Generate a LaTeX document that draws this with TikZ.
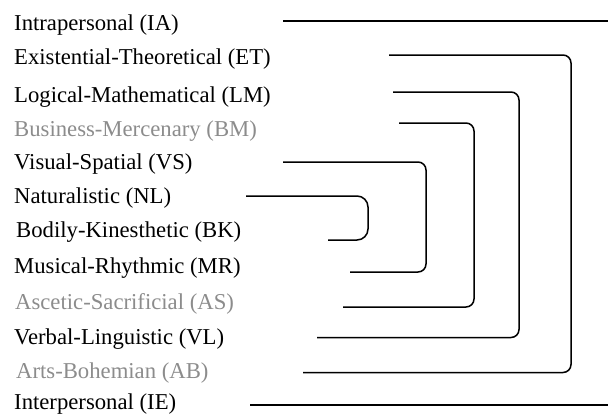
\documentclass[tikz,border=0pt]{standalone}
\usepackage{fontspec}
\setmainfont{Liberation Serif}
\usetikzlibrary{positioning}
\definecolor{faded}{RGB}{140,140,140}
\tikzset{
  intel/.style={anchor=base west,inner sep=0pt,font=\fontsize{22.7}{27}\selectfont},
  weak/.style={intel,text=faded},
  link/.style={line width=1.5pt,rounded corners=8pt},
}

\begin{document}
\begin{tikzpicture}[x=1pt,y=-1pt]
      \useasboundingbox (0,0) rectangle (608,415);
      \node[intel] (ia) at (14,30.5) { Intrapersonal (IA) };
      \node[intel] (et) at (14,64.5) { Existential-Theoretical (ET) };
      \node[intel] (lm) at (14,102) { Logical-Mathematical (LM) };
      \node[weak] (bm) at (14,136) { Business-Mercenary (BM) };
      \node[intel] (vs) at (14,169.5) { Visual-Spatial (VS) };
      \node[intel] (nl) at (14,203.5) { Naturalistic (NL) };
      \node[intel] (bk) at (16,237.5) { Bodily-Kinesthetic (BK) };
      \node[intel] (mr) at (14,273) { Musical-Rhythmic (MR) };
      \node[weak] (as) at (15,309.5) { Ascetic-Sacrificial (AS) };
      \node[intel] (vl) at (14,344) { Verbal-Linguistic (VL) };
      \node[weak] (ab) at (16,378) { Arts-Bohemian (AB) };
      \node[intel] (ie) at (14,409.5) { Interpersonal (IE) };

      \coordinate (ia-a) at (283,21);
      \coordinate (ia-b) at (608,21);
      \coordinate (ie-a) at (250,405);
      \coordinate (ie-b) at (608,405);
      \coordinate (et-a) at (389,55);
      \coordinate (ab-a) at (303,372.5);
      \coordinate (lm-a) at (393,92);
      \coordinate (vl-a) at (317,337.5);
      \coordinate (bm-a) at (399,123);
      \coordinate (as-a) at (343,307);
      \coordinate (vs-a) at (283,162);
      \coordinate (mr-a) at (350,272);
      \coordinate (nl-a) at (246,196);
      \coordinate (bk-a) at (328,240);

      \draw[link] (ia-a) -- (ia-b);
      \draw[link] (ie-a) -- (ie-b);
      \draw[link] (et-a) -- ++(182,0) |- (ab-a);
      \draw[link] (lm-a) -- ++(126,0) |- (vl-a);
      \draw[link] (bm-a) -- ++(75,0) |- (as-a);
      \draw[link] (vs-a) -- ++(143,0) |- (mr-a);
      \draw[link,rounded corners=11pt] (nl-a) -- ++(122,0) |- (bk-a);
\end{tikzpicture}
\end{document}
